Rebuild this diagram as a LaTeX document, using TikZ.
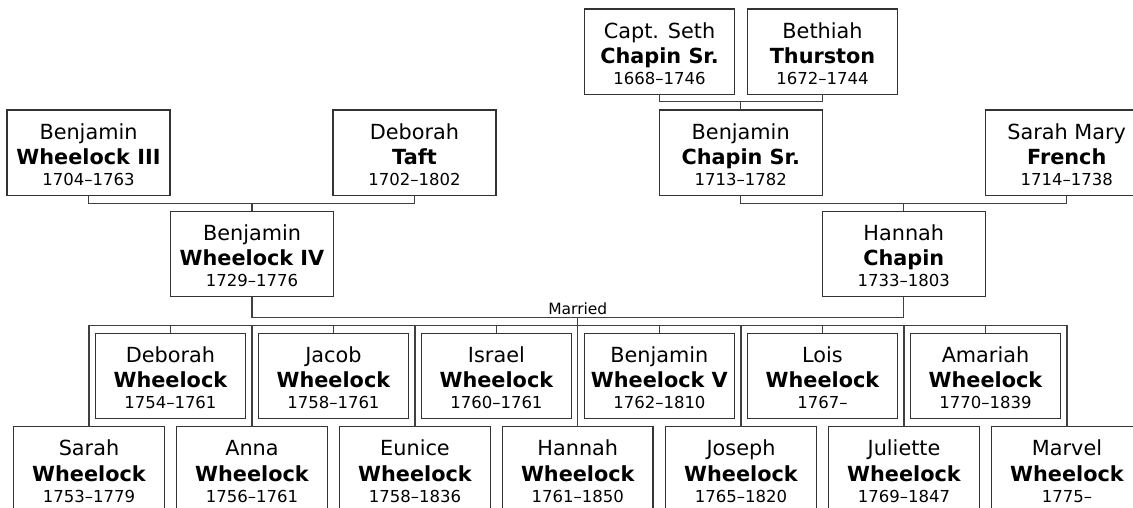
\documentclass[tikz,border=0pt]{standalone}
\usepackage{fontspec}
\setmainfont{DejaVu Sans}
\tikzset{
  pbox/.style={rectangle, draw=black!80, line width=1.2pt, fill=white, inner sep=0pt, outer sep=0pt, minimum height=85.5pt},
  wbox/.style={pbox, minimum width=163pt},
  nbox/.style={pbox, minimum width=150.5pt},
  tline/.style={anchor=base, inner sep=0pt, font=\fontsize{20.8}{25}\selectfont},
  bline/.style={anchor=base, inner sep=0pt, font=\fontsize{20.8}{25}\selectfont\bfseries},
  yline/.style={anchor=base, inner sep=0pt, font=\fontsize{16.5}{20}\selectfont},
  conn/.style={draw=black!75, line width=1.2pt},
  mlabel/.style={anchor=base, inner sep=0pt, font=\fontsize{15.5}{18}\selectfont},
}
\newcommand\person[7]{%
  \node[#4] (#1) at (#2,#3+42.75) {};
  \node[tline] (#1-a) at ([yshift=-29.2pt]#1.north) {#5};
  \node[bline] (#1-b) at ([yshift=-54.5pt]#1.north) {#6};
  \node[yline] (#1-c) at ([yshift=-75.5pt]#1.north) {#7};
}
\begin{document}
\begin{tikzpicture}[x=1pt,y=-1pt]
\useasboundingbox (0,0) rectangle (1133,508);
\fill[white] (0,0) rectangle (1133,508);
\clip (0,0) rectangle (1133,508);
% generation 1
\person{seth}{659.5}{9}{nbox}{Capt. Seth}{Chapin Sr.}{1668–1746}
\person{beth}{822.5}{9}{nbox}{Bethiah}{Thurston}{1672–1744}
% generation 2
\person{bw3}{88.5}{110}{wbox}{Benjamin}{Wheelock III}{1704–1763}
\person{dtaft}{414.5}{110}{wbox}{Deborah}{Taft}{1702–1802}
\person{bcs}{740.7}{110}{wbox}{Benjamin}{Chapin Sr.}{1713–1782}
\person{smf}{1066.7}{110}{wbox}{Sarah Mary}{French}{1714–1738}
% generation 3
\person{bw4}{252}{211.3}{wbox}{Benjamin}{Wheelock IV}{1729–1776}
\person{hc}{903.8}{211.3}{wbox}{Hannah}{Chapin}{1733–1803}
% children, upper row
\person{deb}{170.4}{333.3}{nbox}{Deborah}{Wheelock}{1754–1761}
\person{jac}{333.4}{333.3}{nbox}{Jacob}{Wheelock}{1758–1761}
\person{isr}{496.4}{333.3}{nbox}{Israel}{Wheelock}{1760–1761}
\person{bw5}{659.4}{333.3}{nbox}{Benjamin}{Wheelock V}{1762–1810}
\person{lois}{822.5}{333.3}{nbox}{Lois}{Wheelock}{1767–}
\person{ama}{985.5}{333.3}{nbox}{Amariah}{Wheelock}{1770–1839}
% children, lower row
\person{sar}{89}{426.7}{nbox}{Sarah}{Wheelock}{1753–1779}
\person{ann}{252}{426.7}{nbox}{Anna}{Wheelock}{1756–1761}
\person{eun}{415}{426.7}{nbox}{Eunice}{Wheelock}{1758–1836}
\person{han}{577.8}{426.7}{nbox}{Hannah}{Wheelock}{1761–1850}
\person{jos}{741}{426.7}{nbox}{Joseph}{Wheelock}{1765–1820}
\person{jul}{904}{426.7}{nbox}{Juliette}{Wheelock}{1769–1847}
\person{marv}{1067}{426.7}{nbox}{Marvel}{Wheelock}{1775–}
% connector levels
\coordinate (y1) at (0,101.7);
\coordinate (y2) at (0,203.3);
\coordinate (ym) at (0,317.3);
\coordinate (yb) at (0,325.7);
% parents brackets
\draw[conn] (seth.south) |- (beth.south |- y1) -- (beth.south);
\draw[conn] (bcs.north) -- (bcs.north |- y1);
\draw[conn] (bw3.south) |- (dtaft.south |- y2) -- (dtaft.south);
\draw[conn] (bw4.north) -- (bw4.north |- y2);
\draw[conn] (bcs.south) |- (smf.south |- y2) -- (smf.south);
\draw[conn] (hc.north) -- (hc.north |- y2);
% marriage
\draw[conn] (bw4.south) |- (hc.south |- ym) -- (hc.south);
\coordinate (mar) at (han.north |- ym);
\draw[conn] (mar) -- (han.north);
\node[mlabel] (married) at ([yshift=3.3pt]mar) {Married};
% children bus
\draw[conn] (sar.north) |- (marv.north |- yb) -- (marv.north);
\foreach \n in {ann,eun,jos,jul,deb,jac,isr,bw5,lois,ama}
  \draw[conn] (\n.north) -- (\n.north |- yb);
\end{tikzpicture}
\end{document}
